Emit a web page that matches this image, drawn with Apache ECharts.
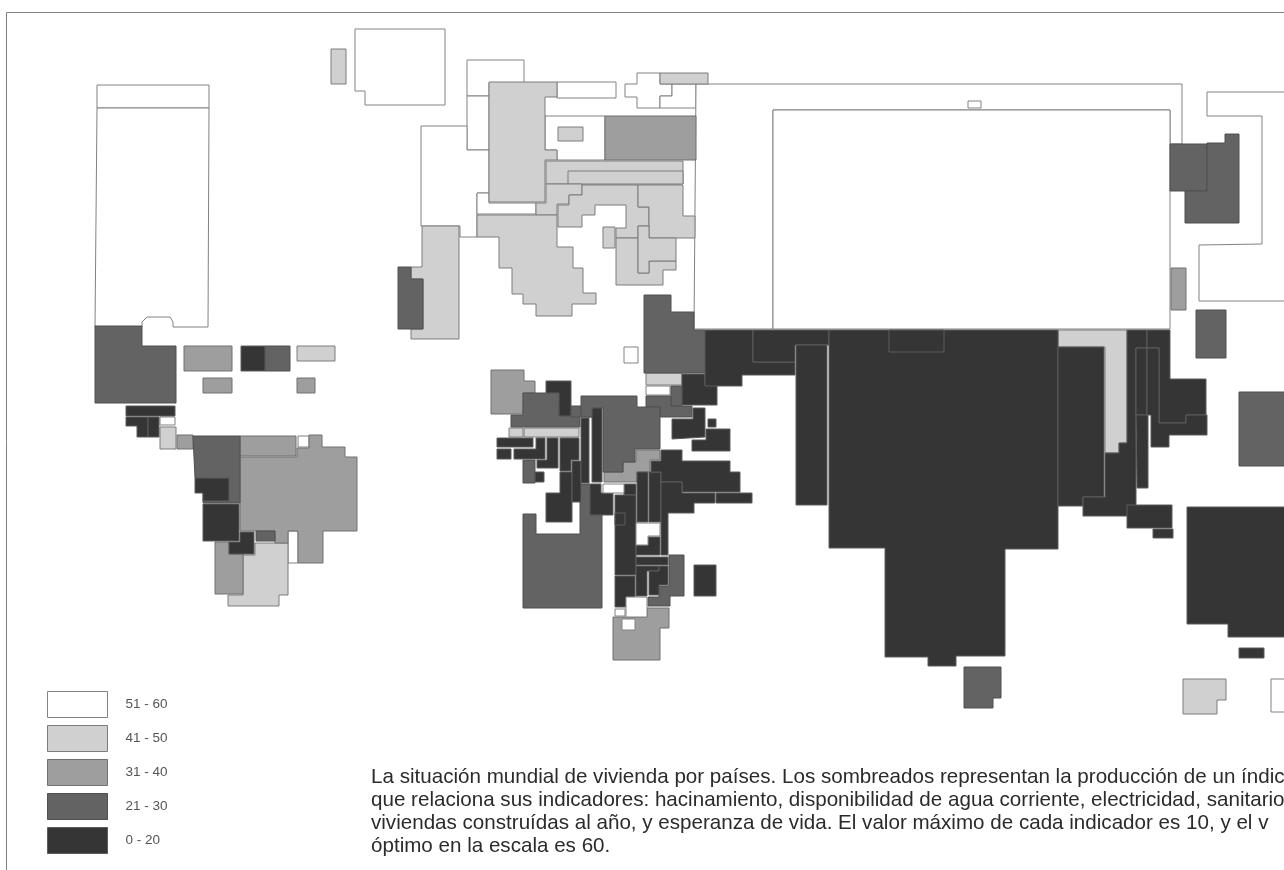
<!DOCTYPE html>
<html>
<head>
<meta charset="utf-8">
<style>
html, body { margin: 0; padding: 0; background: #fff; overflow: hidden; }
/* the original is a soft scan */
#container { width: 1284px; height: 870px; filter: blur(0.5px); }
</style>
<script src="https://cdn.jsdelivr.net/npm/echarts@6/dist/echarts.min.js"></script>
</head>
<body>
<div id="container"></div>
<script>
// country outlines of the cartogram, in the map's own grid units, one list per index band
var bandNames = ['51 - 60', '41 - 50', '31 - 40', '21 - 30', '0 - 20'];
var bandColors = ['#ffffff', '#d0d0d0', '#9e9e9e', '#636363', '#353535'];
var bandStrokes = ['#828282', '#7c7c7c', '#707070', '#505050', '#5c5c5c'];

var whiteRegions = [
    [[97,85],[209,85],[209,108],[97,108]],
    [[97,108],[209,108],[208,327],[173,327],[173,322],[170,317],[147,317],[142,322],[142,327],[95,327]],
    [[355,29],[445,29],[445,105],[365,105],[365,91],[355,91]],
    [[467,60],[524,60],[524,83],[489,83],[489,96],[467,96]],
    [[467,96],[489,96],[489,150],[467,150]],
    [[421,126],[467,126],[467,150],[489,150],[489,193],[477,193],[477,237],[460,237],[460,226],[421,226]],
    [[477,193],[489,193],[489,203],[536,203],[536,214],[477,214]],
    [[545,116],[605,116],[605,160],[557,160],[557,150],[545,150]],
    [[557,82],[616,82],[616,98],[557,98]],
    [[637,73],[660,73],[660,84],[672,84],[672,96],[660,96],[660,108],[637,108],[637,97],[625,97],[625,84],[637,84]],
    [[672,84],[696,84],[696,108],[660,108],[660,96],[672,96]],
    [[696,84],[1182,84],[1182,144],[1170,144],[1170,110],[773,110],[773,329],[694,329]],
    [[773,110],[1170,110],[1170,329],[773,329]],
    [[968,101],[981,101],[981,108],[968,108]],
    [[1207,92],[1286,92],[1286,301],[1199,301],[1199,245],[1262,244],[1262,116],[1207,116]],
    [[1271,679],[1286,679],[1286,712],[1271,712]],
    [[298,436],[309,436],[309,447],[298,447]],
    [[288,531],[298,531],[298,563],[288,563]],
    [[160,417],[175,417],[175,425],[160,425]],
    [[624,347],[638,347],[638,363],[624,363]],
    [[646,386],[670,386],[670,395],[646,395]]
];

var lightRegions = [
    [[331,49],[346,49],[346,84],[331,84]],
    [[489,82],[557,82],[557,97],[545,97],[545,150],[557,150],[557,160],[545,160],[545,202],[489,202]],
    [[660,73],[708,73],[708,84],[660,84]],
    [[558,127],[583,127],[583,141],[558,141]],
    [[546,161],[683,161],[683,184],[546,184]],
    [[568,171],[683,171],[683,184],[568,184]],
    [[546,184],[582,184],[582,195],[569,195],[569,204],[557,204],[557,215],[536,215],[536,203],[546,203]],
    [[477,215],[557,215],[557,247],[573,247],[573,268],[583,268],[583,293],[596,293],[596,304],[572,304],[572,316],[536,316],[536,304],[523,304],[523,294],[512,294],[512,268],[499,268],[499,237],[477,237]],
    [[582,185],[638,185],[638,207],[649,207],[649,226],[638,226],[638,238],[616,238],[616,228],[626,228],[626,205],[595,205],[595,215],[582,215],[582,227],[558,227],[558,205],[569,205],[569,195],[582,195]],
    [[638,185],[683,185],[683,216],[695,216],[695,238],[649,238],[649,207],[638,207]],
    [[603,227],[615,227],[615,248],[603,248]],
    [[616,238],[638,238],[638,273],[649,273],[649,261],[676,261],[676,270],[663,270],[663,285],[616,285]],
    [[638,226],[649,226],[649,238],[676,238],[676,261],[649,261],[649,273],[638,273]],
    [[422,226],[459,226],[459,339],[411,339],[411,329],[423,329],[423,279],[411,279],[411,267],[422,267]],
    [[297,346],[335,346],[335,361],[297,361]],
    [[160,427],[176,427],[176,449],[160,449]],
    [[255,543],[288,543],[288,595],[279,595],[279,606],[228,606],[228,595],[243,595],[243,555],[255,555]],
    [[646,373],[682,373],[682,385],[646,385]],
    [[509,428],[523,428],[523,437],[509,437]],
    [[524,428],[579,428],[579,437],[524,437]],
    [[1058,330],[1127,330],[1127,443],[1119,443],[1119,453],[1105,453],[1105,347],[1058,347]],
    [[1183,679],[1226,679],[1226,700],[1217,700],[1217,714],[1183,714]]
];

var midRegions = [
    [[605,116],[696,116],[696,160],[605,160]],
    [[184,346],[232,346],[232,371],[184,371]],
    [[203,378],[232,378],[232,393],[203,393]],
    [[297,378],[315,378],[315,393],[297,393]],
    [[177,435],[193,435],[193,449],[177,449]],
    [[240,436],[296,436],[296,456],[240,456]],
    [[240,457],[297,457],[297,448],[309,448],[309,435],[322,435],[322,447],[345,447],[345,457],[357,457],[357,531],[323,531],[323,563],[298,563],[298,531],[288,531],[288,543],[275,543],[275,531],[240,531]],
    [[215,542],[229,542],[229,554],[243,554],[243,594],[215,594]],
    [[491,370],[524,370],[524,381],[535,381],[535,393],[523,393],[523,414],[491,414]],
    [[636,450],[660,450],[660,460],[650,460],[650,472],[637,472],[637,482],[604,482],[604,472],[623,472],[623,462],[636,462]],
    [[613,617],[647,617],[647,608],[669,608],[669,628],[660,628],[660,660],[613,660]],
    [[1171,268],[1186,268],[1186,310],[1171,310]]
];

var darkRegions = [
    [[95,326],[142,326],[142,346],[176,346],[176,403],[95,403]],
    [[265,346],[290,346],[290,371],[265,371]],
    [[193,436],[240,436],[240,503],[203,503],[203,478],[195,478]],
    [[256,531],[275,531],[275,541],[256,541]],
    [[398,267],[411,267],[411,279],[423,279],[423,329],[398,329]],
    [[644,295],[671,295],[671,312],[694,312],[694,330],[705,330],[705,373],[644,373]],
    [[671,386],[682,386],[682,406],[671,406]],
    [[646,396],[671,396],[671,406],[692,406],[692,417],[660,417],[660,407],[646,407]],
    [[523,393],[559,393],[559,416],[580,416],[580,427],[511,427],[511,415],[523,415]],
    [[571,406],[592,406],[592,417],[571,417]],
    [[581,396],[637,396],[637,407],[660,407],[660,449],[635,449],[635,462],[623,462],[623,472],[603,472],[603,408],[592,408],[592,417],[581,417]],
    [[523,460],[535,460],[535,483],[523,483]],
    [[523,514],[536,514],[536,534],[580,534],[580,484],[590,484],[590,515],[602,515],[602,608],[523,608]],
    [[669,555],[684,555],[684,596],[670,596],[670,606],[648,606],[648,597],[659,597],[659,586],[669,586]],
    [[964,667],[1001,667],[1001,698],[993,698],[993,708],[964,708]],
    [[1170,144],[1207,144],[1207,191],[1170,191]],
    [[1207,143],[1225,143],[1225,134],[1239,134],[1239,223],[1185,223],[1185,191],[1207,191]],
    [[1196,310],[1226,310],[1226,358],[1196,358]],
    [[1239,392],[1286,392],[1286,466],[1239,466]]
];

var darkestRegions = [
    [[241,346],[265,346],[265,371],[241,371]],
    [[126,406],[175,406],[175,416],[126,416]],
    [[126,417],[148,417],[148,437],[137,437],[137,426],[126,426]],
    [[148,417],[159,417],[159,437],[148,437]],
    [[195,478],[229,478],[229,501],[203,501],[203,493],[195,493]],
    [[203,504],[239,504],[239,541],[203,541]],
    [[240,532],[254,532],[254,554],[229,554],[229,542],[240,542]],
    [[682,374],[705,374],[705,385],[717,385],[717,405],[682,405]],
    [[705,330],[753,330],[753,362],[795,362],[795,375],[742,375],[742,386],[705,386]],
    [[753,330],[829,330],[829,345],[795,345],[795,362],[753,362]],
    [[796,345],[827,345],[827,505],[796,505]],
    [[829,330],[1058,330],[1058,549],[1005,549],[1005,656],[956,656],[956,666],[928,666],[928,657],[885,657],[885,548],[829,548]],
    [[889,330],[944,330],[944,352],[889,352]],
    [[1058,347],[1104,347],[1104,497],[1083,497],[1083,506],[1058,506]],
    [[1127,330],[1147,330],[1147,348],[1136,348],[1136,516],[1083,516],[1083,497],[1105,497],[1105,453],[1119,453],[1119,443],[1127,443]],
    [[1136,348],[1147,348],[1147,415],[1136,415]],
    [[1136,415],[1148,415],[1148,488],[1137,488]],
    [[1147,330],[1170,330],[1170,379],[1206,379],[1206,415],[1186,415],[1186,423],[1159,423],[1159,348],[1147,348]],
    [[1147,348],[1159,348],[1159,423],[1186,423],[1186,415],[1207,415],[1207,435],[1169,435],[1169,447],[1151,447],[1151,415],[1147,415]],
    [[1127,505],[1172,505],[1172,528],[1127,528]],
    [[1153,529],[1173,529],[1173,538],[1153,538]],
    [[1187,507],[1286,507],[1286,637],[1228,637],[1228,624],[1187,624]],
    [[1239,648],[1264,648],[1264,658],[1239,658]],
    [[546,381],[571,381],[571,416],[559,416],[559,393],[546,393]],
    [[497,438],[533,438],[533,447],[497,447]],
    [[497,449],[511,449],[511,459],[497,459]],
    [[536,438],[545,438],[545,459],[514,459],[514,449],[536,449]],
    [[547,438],[558,438],[558,468],[537,468],[537,460],[547,460]],
    [[560,438],[579,438],[579,460],[571,460],[571,471],[560,471]],
    [[535,472],[544,472],[544,482],[535,482]],
    [[560,472],[572,472],[572,522],[546,522],[546,493],[560,493]],
    [[572,461],[581,461],[581,502],[572,502]],
    [[581,418],[589,418],[589,483],[581,483]],
    [[592,408],[602,408],[602,482],[592,482]],
    [[590,484],[601,484],[601,493],[613,493],[613,515],[590,515]],
    [[624,484],[636,484],[636,495],[624,495]],
    [[615,495],[636,495],[636,575],[615,575]],
    [[615,513],[625,513],[625,525],[615,525]],
    [[615,576],[635,576],[635,597],[626,597],[626,607],[615,607]],
    [[637,472],[648,472],[648,522],[637,522]],
    [[649,472],[661,472],[661,522],[649,522]],
    [[651,461],[661,461],[661,450],[682,450],[682,461],[730,461],[730,472],[740,472],[740,492],[682,492],[682,482],[661,482],[661,472],[651,472]],
    [[716,493],[752,493],[752,503],[716,503]],
    [[661,482],[682,482],[682,493],[715,493],[715,503],[694,503],[694,513],[668,513],[668,555],[661,555]],
    [[648,537],[660,537],[660,555],[636,555],[636,545],[648,545]],
    [[636,557],[668,557],[668,565],[636,565]],
    [[636,566],[659,566],[659,571],[647,571],[647,596],[636,596]],
    [[649,571],[659,571],[659,566],[668,566],[668,585],[659,585],[659,595],[649,595]],
    [[694,565],[716,565],[716,596],[694,596]],
    [[672,419],[693,419],[693,408],[705,408],[705,437],[672,439]],
    [[692,440],[706,440],[706,429],[730,429],[730,451],[692,451]],
    [[708,419],[716,419],[716,427],[708,427]]
];

// small white countries that sit inside a darker neighbour, painted last
var whiteEnclaves = [
    [[603,484],[624,484],[624,493],[603,493]],
    [[636,523],[660,523],[660,536],[648,536],[648,545],[636,545]],
    [[626,597],[647,597],[647,617],[626,617]],
    [[615,609],[625,609],[625,616],[615,616]],
    [[622,619],[635,619],[635,630],[622,630]]
];

var captionLines = [
    'La situación mundial de vivienda por países. Los sombreados representan la producción de un índic',
    'que relaciona sus indicadores: hacinamiento, disponibilidad de agua corriente, electricidad, sanitario',
    'viviendas construídas al año, y esperanza de vida. El valor máximo de cada indicador es 10, y el v',
    'óptimo en la escala es 60.'
];

function bandSeries(band, regions) {
    return {
        type: 'custom',
        name: bandNames[band],
        coordinateSystem: 'cartesian2d',
        silent: true,
        animation: false,
        itemStyle: { color: bandColors[band], borderColor: bandStrokes[band], borderWidth: 1 },
        data: regions.map(function (r, i) { return [i]; }),
        renderItem: function (params, api) {
            var points = regions[params.dataIndex].map(function (p) {
                return api.coord(p);
            });
            return {
                type: 'polygon',
                shape: { points: points },
                style: { fill: bandColors[band], stroke: bandStrokes[band], lineWidth: 1 }
            };
        }
    };
}

var myChart = echarts.init(document.getElementById('container'), null, { renderer: 'canvas' });

myChart.setOption({
    backgroundColor: '#ffffff',
    animation: false,
    title: {
        text: captionLines.join('\n'),
        left: 371,
        top: 766,
        padding: 0,
        textStyle: {
            fontFamily: 'Liberation Sans',
            fontSize: 20.6,
            fontWeight: 'normal',
            lineHeight: 23,
            color: '#2b2b2b'
        }
    },
    legend: {
        data: bandNames,
        orient: 'vertical',
        left: 47,
        top: 691,
        padding: 0,
        icon: 'rect',
        itemWidth: 60,
        itemHeight: 26,
        itemGap: 7,
        selectedMode: false,
        itemStyle: { borderWidth: 1 },
        textStyle: { fontFamily: 'Liberation Sans', fontSize: 13.5, color: '#555555', padding: [0, 0, 0, 13] }
    },
    grid: { left: 0, right: 0, top: 0, bottom: 0 },
    xAxis: { type: 'value', min: 0, max: 1284, show: false },
    yAxis: { type: 'value', min: 0, max: 870, inverse: true, show: false },
    graphic: [{
        type: 'polyline',
        shape: { points: [[6.5, 870], [6.5, 12.5], [1284, 12.5]] },
        style: { fill: null, stroke: '#808080', lineWidth: 1 }
    }],
    series: [
        bandSeries(0, whiteRegions),
        bandSeries(1, lightRegions),
        bandSeries(2, midRegions),
        bandSeries(3, darkRegions),
        bandSeries(4, darkestRegions),
        bandSeries(0, whiteEnclaves)
    ]
});
</script>
</body>
</html>
